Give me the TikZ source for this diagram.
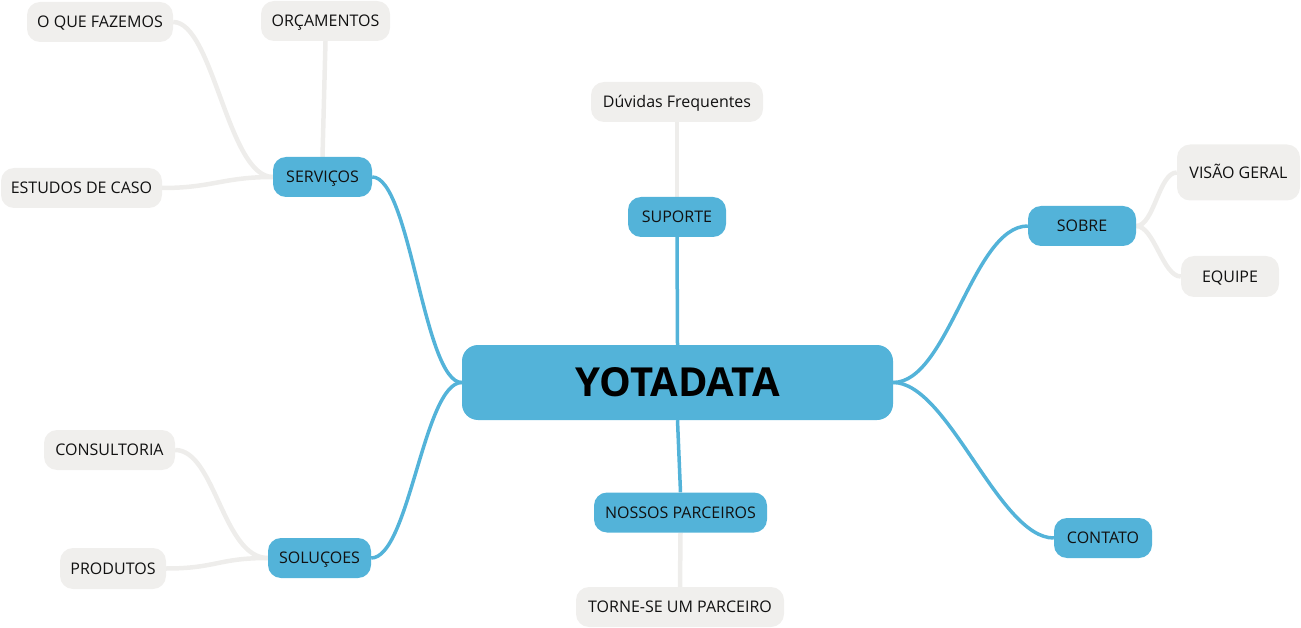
\documentclass[tikz,border=0pt]{standalone}
\usepackage{fontspec}
\setmainfont{Open Sans}
\usetikzlibrary{backgrounds}
\definecolor{topicblue}{HTML}{53B3D9}
\definecolor{subgray}{HTML}{F0EFED}
\definecolor{linegray}{HTML}{EEEDEB}
\definecolor{txt}{HTML}{111111}
\tikzset{
  topic/.style={fill=topicblue, rounded corners=13pt, inner sep=0pt, text=txt, font=\fontsize{16}{19}\selectfont, text height=11.4pt, text depth=0pt, minimum height=40pt},
  subtopic/.style={fill=subgray, rounded corners=13pt, inner sep=0pt, text=txt, font=\fontsize{16}{19}\selectfont, text height=11.4pt, text depth=0pt, minimum height=40pt},
  mainnode/.style={fill=topicblue, rounded corners=16pt, inner sep=0pt, text=black, font=\fontsize{40}{46}\selectfont\bfseries, text height=28.6pt, text depth=0pt, minimum width=431pt, minimum height=75pt},
  blueline/.style={draw=topicblue, line width=3.5pt},
  grayline/.style={draw=linegray, line width=4.5pt}
}
\begin{document}
\begin{tikzpicture}[x=1pt,y=-1pt]
\useasboundingbox (0,0) rectangle (1301,628);
% main
\node[mainnode] (main) at (677.5,382.5) {YOTADATA};
% topics
\node[topic, minimum width=99pt] (serv) at (322.5,177) {SERVIÇOS};
\node[topic, minimum width=98pt] (sup) at (677,217) {SUPORTE};
\node[topic, minimum width=108pt] (sobre) at (1082,226) {SOBRE};
\node[topic, minimum width=98pt] (cont) at (1103,538) {CONTATO};
\node[topic, minimum width=173pt] (np) at (680.5,512.5) {NOSSOS PARCEIROS};
\node[topic, minimum width=103pt] (sol) at (319.5,558) {SOLUÇOES};
% subtopics
\node[subtopic, minimum width=172pt] (duv) at (677,102) {Dúvidas Frequentes};
\node[subtopic, minimum width=123pt, minimum height=56pt] (visao) at (1238.5,172.5) {VISÃO GERAL};
\node[subtopic, minimum width=98pt, minimum height=41pt] (equipe) at (1230,276.5) {EQUIPE};
\node[subtopic, minimum width=208pt] (torne) at (680,607) {TORNE-SE UM PARCEIRO};
\node[subtopic, minimum width=131pt] (consult) at (109.5,450) {CONSULTORIA};
\node[subtopic, minimum width=106pt, minimum height=41pt] (prod) at (113,568.5) {PRODUTOS};
\node[subtopic, minimum width=146pt] (oque) at (100,22) {O QUE FAZEMOS};
\node[subtopic, minimum width=129pt] (orc) at (325.5,21) {ORÇAMENTOS};
\node[subtopic, minimum width=161pt] (est) at (81.5,188) {ESTUDOS DE CASO};
\begin{scope}[on background layer]
% blue connectors
\draw[blueline] (main.west) .. controls +(-38,0) and +(38,0) .. (serv.east);
\draw[blueline] (main.west) .. controls +(-38,0) and +(38,0) .. (sol.east);
\draw[blueline] (main.east) .. controls +(55,0) and +(-55,0) .. (sobre.west);
\draw[blueline] (main.east) .. controls +(55,0) and +(-55,0) .. (cont.west);
\draw[blueline] (main.north) -- (sup.south);
\draw[blueline] (main.south) -- (np.north);
% gray connectors
\draw[grayline] (serv.west) .. controls +(-45,0) and +(40,0) .. (oque.east);
\draw[grayline] (serv.west) .. controls +(-50,0) and +(50,0) .. (est.east);
\draw[grayline] (serv.north) -- (orc.south);
\draw[grayline] (sobre.east) .. controls +(18,0) and +(-18,0) .. (visao.west);
\draw[grayline] (sobre.east) .. controls +(18,0) and +(-18,0) .. (equipe.west);
\draw[grayline] (sol.west) .. controls +(-45,0) and +(40,0) .. (consult.east);
\draw[grayline] (sol.west) .. controls +(-50,0) and +(50,0) .. (prod.east);
\draw[grayline] (np.south) -- (torne.north);
\draw[grayline] (sup.north) -- (duv.south);
\end{scope}
\end{tikzpicture}
\end{document}
